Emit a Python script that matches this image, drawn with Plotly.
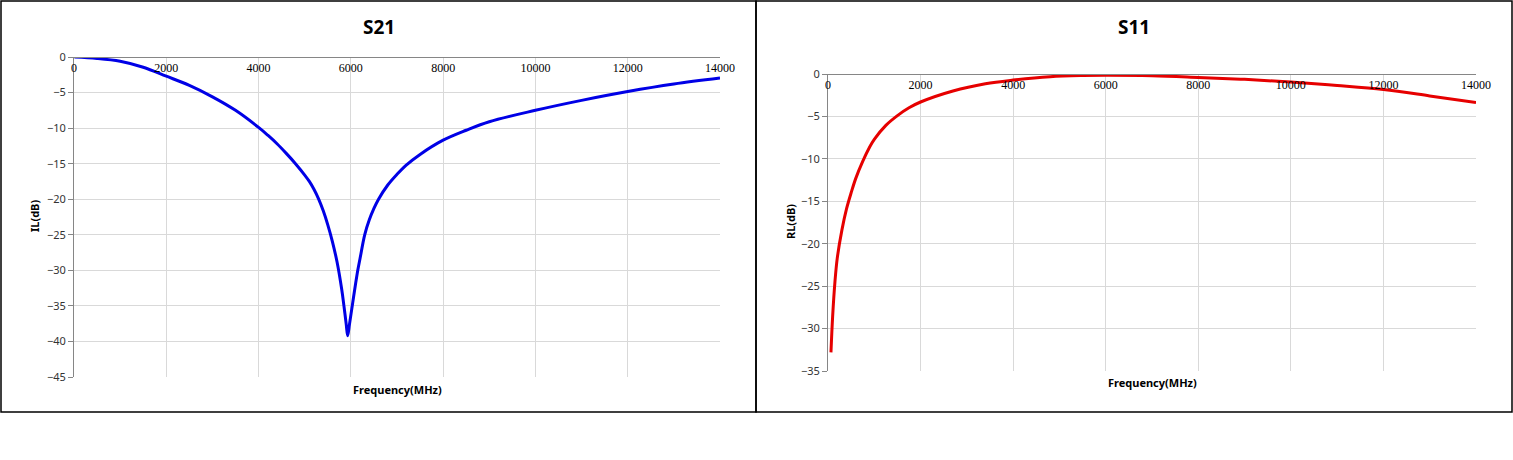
import plotly.graph_objects as go

# S21 (insertion loss) data
freq_s21 = [10, 500, 1000, 1500, 2000, 2500, 3000, 3500, 4000, 4200, 4400, 4600, 4800, 5000,
            5100, 5200, 5300, 5400, 5500, 5600, 5700, 5800, 5850, 5900, 5931,
            5970, 6030, 6100, 6150, 6200, 6300, 6400, 6500, 6600, 6800, 7000,
            7200, 7500, 8000, 8500, 9000, 10000, 11000, 12000, 13000, 14000]
il_s21 = [-0.0, -0.2, -0.6, -1.44, -2.7, -4.0, -5.6, -7.5, -9.9, -11.0, -12.2, -13.55, -15.0, -16.6,
          -17.5, -18.6, -19.95, -21.6, -23.6, -25.95, -28.8, -32.6, -35.0, -37.6, -39.2,
          -37.6, -35.0, -32.0, -30.0, -28.3, -25.0, -22.9, -21.3, -20.0, -18.0, -16.5,
          -15.2, -13.7, -11.7, -10.3, -9.1, -7.5, -6.1, -4.86, -3.8, -2.96]

# S11 (return loss) data
freq_s11 = [64, 100, 150, 200, 300, 400, 500, 600, 750, 900, 1000, 1250, 1500, 1750, 2000,
            2700, 3400, 4000, 4800, 5500, 6000, 7000, 8000, 9000, 10000, 11000, 12000,
            13000, 14000]
rl_s11 = [-32.8, -28.6, -24.5, -21.7, -18.4, -15.9, -14.0, -12.3, -10.3, -8.6, -7.7, -6.05, -4.9, -3.98, -3.3,
          -2.0, -1.15, -0.72, -0.32, -0.18, -0.15, -0.2, -0.4, -0.63, -0.95, -1.35, -1.83,
          -2.58, -3.37]

x_ticks = [0, 2000, 4000, 6000, 8000, 10000, 12000, 14000]

W, H = 1513, 460


def px(x):
    return x / W


def py(y):
    return 1 - y / H


fig = go.Figure()
fig.add_trace(go.Scatter(x=freq_s21, y=il_s21, mode="lines",
                         line=dict(color="#0000e6", width=3, shape="spline", smoothing=1),
                         xaxis="x", yaxis="y", showlegend=False))
fig.add_trace(go.Scatter(x=freq_s11, y=rl_s11, mode="lines",
                         line=dict(color="#e60000", width=3, shape="spline", smoothing=1),
                         xaxis="x2", yaxis="y2", showlegend=False))

grid = "#d9d9d9"
axline = "#868686"
xtickfont = dict(family="Liberation Serif, DejaVu Serif, serif", size=12, color="#000000")
ytickfont = dict(family="Noto Sans, Liberation Sans, sans-serif", size=11, color="#333333")

common_x = dict(range=[0, 14000], tickvals=x_ticks, tickformat="d", side="bottom",
                showgrid=True, gridcolor=grid, gridwidth=1, showline=True, linecolor=axline,
                linewidth=1, zeroline=False, ticks="", tickfont=xtickfont, automargin=False,
                fixedrange=True, anchor="free")
common_y = dict(dtick=5, showgrid=True, gridcolor=grid, gridwidth=1, showline=True,
                linecolor=axline, linewidth=1, zeroline=False, ticks="outside", ticklen=5,
                tickcolor=axline, tickfont=ytickfont, automargin=False, fixedrange=True)

fig.update_layout(
    width=W, height=H,
    margin=dict(l=0, r=0, t=0, b=0),
    paper_bgcolor="white", plot_bgcolor="white",
    xaxis=dict(domain=[px(74), px(720)], position=py(57), **common_x),
    yaxis=dict(domain=[py(377), py(57)], anchor="x", range=[-45, 0], **common_y),
    xaxis2=dict(domain=[px(828), px(1476)], position=py(74), **common_x),
    yaxis2=dict(domain=[py(371), py(74)], anchor="x2", range=[-35, 0], **common_y),
)

# panel borders
fig.add_shape(type="rect", xref="paper", yref="paper", x0=px(1), y0=py(412), x1=px(756), y1=py(1),
              line=dict(color="black", width=1.5), fillcolor="rgba(0,0,0,0)", layer="above")
fig.add_shape(type="rect", xref="paper", yref="paper", x0=px(756), y0=py(412), x1=px(1512), y1=py(1),
              line=dict(color="black", width=1.5), fillcolor="rgba(0,0,0,0)", layer="above")

title_font = dict(family="Noto Sans, Liberation Sans, sans-serif", size=19, color="#000000")
label_font = dict(family="Noto Sans, Liberation Sans, sans-serif", size=11, color="#000000")

ann = [
    dict(text="<b>S21</b>", x=px(379), y=py(27), font=title_font),
    dict(text="<b>S11</b>", x=px(1134), y=py(27), font=title_font),
    dict(text="<b>Frequency(MHz)</b>", x=px(397), y=py(389), font=label_font),
    dict(text="<b>Frequency(MHz)</b>", x=px(1152), y=py(382), font=label_font),
    dict(text="<b>IL(dB)</b>", x=px(35), y=py(216), font=label_font, textangle=-90),
    dict(text="<b>RL(dB)</b>", x=px(790), y=py(222), font=label_font, textangle=-90),
]
for a in ann:
    fig.add_annotation(xref="paper", yref="paper", showarrow=False,
                       xanchor="center", yanchor="middle", **a)

fig.write_html("out.html", config={"displayModeBar": False},
               post_script="document.body.style.margin='0';document.body.style.padding='0';")
